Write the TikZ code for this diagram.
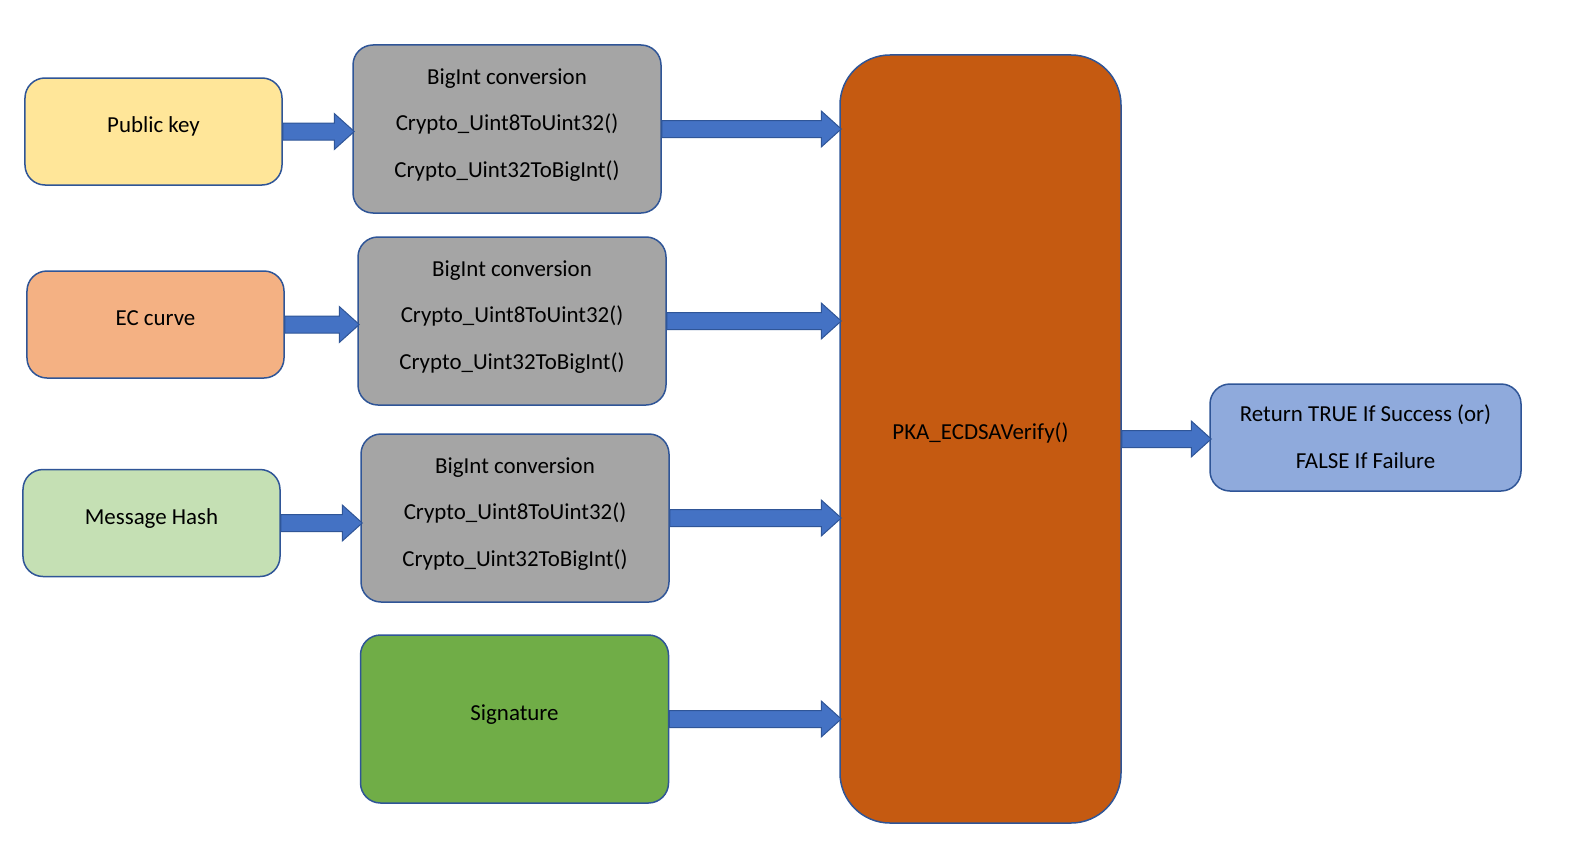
\documentclass[tikz,border=0pt]{standalone}
\usepackage{fontspec}
\setmainfont{Carlito}
\usetikzlibrary{calc}
\definecolor{edgeblue}{HTML}{2F5597}
\definecolor{arrowblue}{HTML}{4472C4}
\definecolor{keyyellow}{HTML}{FFE699}
\definecolor{curveorange}{HTML}{F4B183}
\definecolor{hashgreen}{HTML}{C5E0B4}
\definecolor{convgray}{HTML}{A5A5A5}
\definecolor{siggreen}{HTML}{70AD47}
\definecolor{pkaorange}{HTML}{C55A11}
\definecolor{resultblue}{HTML}{8FAADC}
\tikzset{
  box/.style={draw=edgeblue, line width=1.5bp, rounded corners=20bp, inner sep=0pt},
  boxtext/.style={align=center, inner sep=0pt, font=\fontsize{23}{47}\selectfont, yshift=4bp},
  inbox/.style={box, minimum width=257bp, minimum height=107bp},
  convbox/.style={box, fill=convgray, minimum width=308bp, minimum height=168bp},
  barrowstyle/.style={fill=arrowblue, draw=edgeblue, line width=1bp, line join=miter},
}
% block arrow from the east side of #1 to the west side of #2, at the height of #1
\newcommand\blockarrow[2]{%
  \path[barrowstyle] let \p1=(#1.east), \p2=(#2.west) in
    (\x1,\y1+8.5bp) -- (\x2-18bp,\y1+8.5bp) -- (\x2-18bp,\y1+18bp) -- (\x2+2bp,\y1)
    -- (\x2-18bp,\y1-18bp) -- (\x2-18bp,\y1-8.5bp) -- (\x1,\y1-8.5bp) -- cycle;}
\begin{document}
\begin{tikzpicture}[x=1bp, y=-1bp]
\useasboundingbox (0,0) rectangle (1573,852);
\fill[white] (0,0) rectangle (1573,852);

% inputs
\node[inbox, fill=keyyellow, label={[boxtext, yshift=1.5bp]center:Public key}] (pub) at (153.5,131.5) {};
\node[inbox, fill=curveorange, label={[boxtext, yshift=2.5bp]center:EC curve}] (curve) at (155.5,324.5) {};
\node[inbox, fill=hashgreen, label={[boxtext]center:Message Hash}] (hash) at (151.5,523) {};

% conversions
\node[convbox, label={[boxtext]center:{BigInt conversion\\Crypto\_Uint8ToUint32()\\Crypto\_Uint32ToBigInt()}}] (conv1) at (507,129) {};
\node[convbox, label={[boxtext]center:{BigInt conversion\\Crypto\_Uint8ToUint32()\\Crypto\_Uint32ToBigInt()}}] (conv2) at (512,321) {};
\node[convbox, label={[boxtext]center:{BigInt conversion\\Crypto\_Uint8ToUint32()\\Crypto\_Uint32ToBigInt()}}] (conv3) at (515,518) {};
\node[convbox, fill=siggreen, label={[boxtext]center:Signature}] (sig) at (514.5,719) {};

% verification and result
\node[box, fill=pkaorange, rounded corners=50bp, minimum width=281bp, minimum height=768bp,
  label={[boxtext, yshift=2bp]center:PKA\_ECDSAVerify()}] (pka) at (980.5,439) {};
\node[box, fill=resultblue, minimum width=311bp, minimum height=107bp,
  label={[boxtext, yshift=-3bp]center:{Return TRUE If Success (or)\\FALSE If Failure}}] (res) at (1365.5,437.5) {};

% connectors
\blockarrow{pub}{conv1}
\blockarrow{curve}{conv2}
\blockarrow{hash}{conv3}
\blockarrow{conv1}{pka}
\blockarrow{conv2}{pka}
\blockarrow{conv3}{pka}
\blockarrow{sig}{pka}
\blockarrow{pka}{res}
\end{tikzpicture}
\end{document}
